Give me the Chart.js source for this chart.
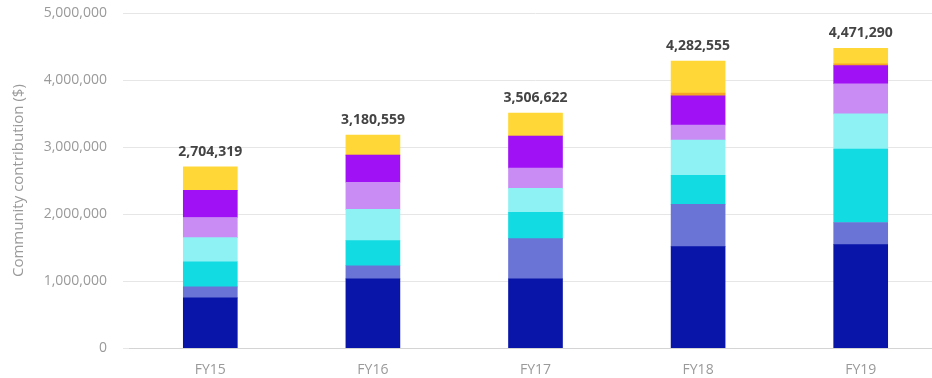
<!DOCTYPE html>
<html>
<head>
<meta charset="utf-8">
<title>Community contribution</title>
<script src="https://cdn.jsdelivr.net/npm/chart.js@4"></script>
<style>
  html, body { margin: 0; padding: 0; background: #ffffff; overflow: hidden; }
  #wrap { width: 932px; height: 378px; overflow: hidden; }
  canvas { display: block; }
</style>
</head>
<body>
<div id="wrap"><canvas id="chart" width="942" height="378"></canvas></div>
<script>
// Financial years on the x axis
const years = ['FY15', 'FY16', 'FY17', 'FY18', 'FY19'];

// Contribution components ($), stacked from the bottom up
const partA = [750000, 1035000, 1035000, 1515000, 1545000];
const partB = [165000, 195000, 600000, 630000, 330000];
const partC = [375000, 375000, 390000, 435000, 1095000];
const partD = [360000, 465000, 360000, 525000, 525000];
const partE = [300000, 405000, 300000, 225000, 450000];
const partF = [405000, 405000, 480000, 435000, 270000];
const partG = [0, 0, 0, 40000, 25000];
const partH = [349319, 300559, 341622, 477555, 231290];

// Y axis range and step
const yMin = 0;
const yMax = 5000000;
const yStep = 1000000;

const palette = ['#0915a8', '#6a74d6', '#12dbe2', '#8ef1f4', '#c98cf5', '#a012f5', '#f5a623', '#ffd838'];
const parts = [partA, partB, partC, partD, partE, partF, partG, partH];

const fmt = v => v.toLocaleString('en-US');

// Writes the stack total above each column
const totalLabels = {
  id: 'totalLabels',
  afterDatasetsDraw(chart) {
    const { ctx, scales: { x, y } } = chart;
    ctx.save();
    ctx.font = 'bold 14px "Open Sans"';
    ctx.fillStyle = '#444444';
    ctx.textAlign = 'center';
    ctx.textBaseline = 'middle';
    years.forEach((_, i) => {
      const sum = chart.data.datasets.reduce((s, ds) => s + ds.data[i], 0);
      ctx.fillText(fmt(sum), x.getPixelForValue(i), y.getPixelForValue(sum) - 15);
    });
    ctx.restore();
  }
};

new Chart(document.getElementById('chart'), {
  type: 'bar',
  data: {
    labels: years,
    datasets: parts.map((d, k) => ({
      label: 'Component ' + (k + 1),
      data: d,
      backgroundColor: palette[k],
      borderWidth: 0,
      barThickness: 54
    }))
  },
  options: {
    responsive: false,
    animation: false,
    layout: { padding: { top: 13, bottom: -13, left: 0, right: 0 } },
    plugins: {
      legend: { display: false },
      tooltip: { enabled: false }
    },
    scales: {
      x: {
        stacked: true,
        grid: { display: false, drawTicks: false },
        border: { display: true, color: '#d4d4d4' },
        ticks: {
          color: '#9a9a9a',
          font: { family: '"Open Sans"', size: 14 },
          padding: 13
        }
      },
      y: {
        stacked: true,
        min: yMin,
        max: yMax,
        afterFit(scale) {
          scale.width = 129;
          scale.paddingTop = 0;
          scale.paddingBottom = 0;
        },
        grid: { color: '#e6e6e6', drawTicks: true, tickLength: 6 },
        border: { display: false },
        ticks: {
          stepSize: yStep,
          color: '#9a9a9a',
          font: { family: '"Open Sans"', size: 14 },
          padding: 16,
          callback: v => fmt(v)
        },
        title: {
          display: true,
          text: 'Community contribution ($)',
          color: '#9a9a9a',
          font: { family: '"Open Sans"', size: 15 },
          padding: { top: 10, bottom: 0 }
        }
      }
    }
  },
  plugins: [totalLabels]
});
</script>
</body>
</html>
